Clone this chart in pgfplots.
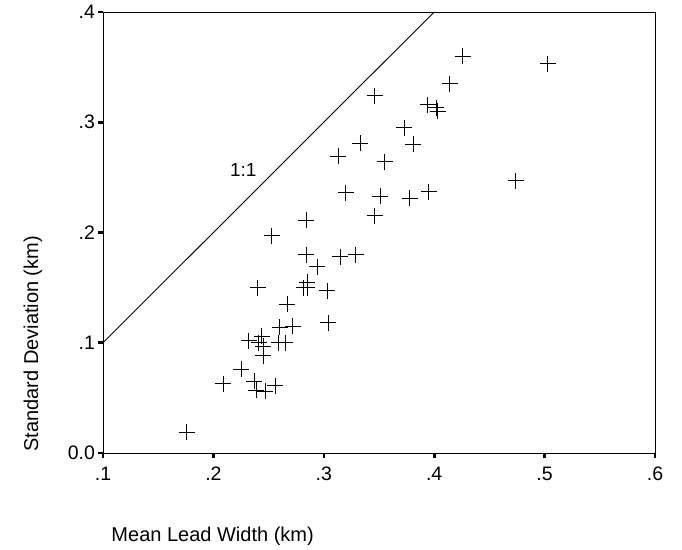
\documentclass[border=0pt]{standalone}
\usepackage{fontspec}
\setmainfont{Liberation Sans}
\usepackage{pgfplots}
\pgfplotsset{compat=1.18}
\begin{document}
\begin{tikzpicture}
\begin{axis}[
  scale only axis,
  width=552bp, height=441bp,
  xmin=0.1, xmax=0.6, ymin=0, ymax=0.4,
  xtick={0.1,0.2,0.3,0.4,0.5,0.6},
  xticklabels={.1,.2,.3,.4,.5,.6},
  ytick={0,0.1,0.2,0.3,0.4},
  yticklabels={0.0,.1,.2,.3,.4},
  xtick pos=bottom, ytick pos=left,
  xtick align=outside, ytick align=outside,
  major tick style={black, line width=2.6bp},
  major tick length=4.5bp,
  axis line style={black, line width=0.8bp},
  ticklabel style={font=\fontsize{19.5bp}{21bp}\selectfont},
  xticklabel style={yshift=-6bp},
  xlabel={Mean Lead Width (km)},
  ylabel={Standard Deviation (km)},
  xlabel style={at={(axis description cs:0.009,-0.19)}, anchor=west, font=\fontsize{20bp}{22bp}\selectfont},
  ylabel style={at={(axis description cs:-0.127,-0.005)}, anchor=west, rotate=0, font=\fontsize{20bp}{22bp}\selectfont},
  clip=false,
]
\addplot[black, line width=0.9bp] coordinates {(0.1,0.1) (0.4,0.4)};
\addplot[only marks, mark=+, mark size=8bp, mark options={line width=1bp, black}] coordinates {
(0.176,0.019) (0.209,0.063) (0.225,0.076) (0.237,0.065) (0.239,0.057)
(0.247,0.056) (0.256,0.061) (0.232,0.102) (0.244,0.106) (0.241,0.100)
(0.245,0.097) (0.259,0.100) (0.265,0.100) (0.245,0.088) (0.260,0.114)
(0.272,0.115) (0.304,0.118) (0.267,0.135) (0.240,0.150) (0.285,0.155)
(0.285,0.150) (0.282,0.150) (0.303,0.147) (0.294,0.169) (0.284,0.180)
(0.315,0.178) (0.329,0.180) (0.253,0.197) (0.284,0.211) (0.346,0.215)
(0.320,0.236) (0.351,0.233) (0.378,0.231) (0.395,0.237) (0.313,0.269)
(0.355,0.264) (0.333,0.281) (0.381,0.280) (0.373,0.295) (0.394,0.316)
(0.402,0.313) (0.403,0.310) (0.346,0.324) (0.414,0.335) (0.426,0.360)
(0.503,0.353) (0.474,0.247)
};
\node[font=\fontsize{19bp}{21bp}\selectfont] at (axis cs:0.227,0.257) {1:1};
\path (rel axis cs:0,0) ++(-103bp,-97bp) coordinate (bl);
\path (rel axis cs:1,1) ++(27bp,12bp) coordinate (tr);
\end{axis}
\path (bl) rectangle (tr);
\end{tikzpicture}
\end{document}
